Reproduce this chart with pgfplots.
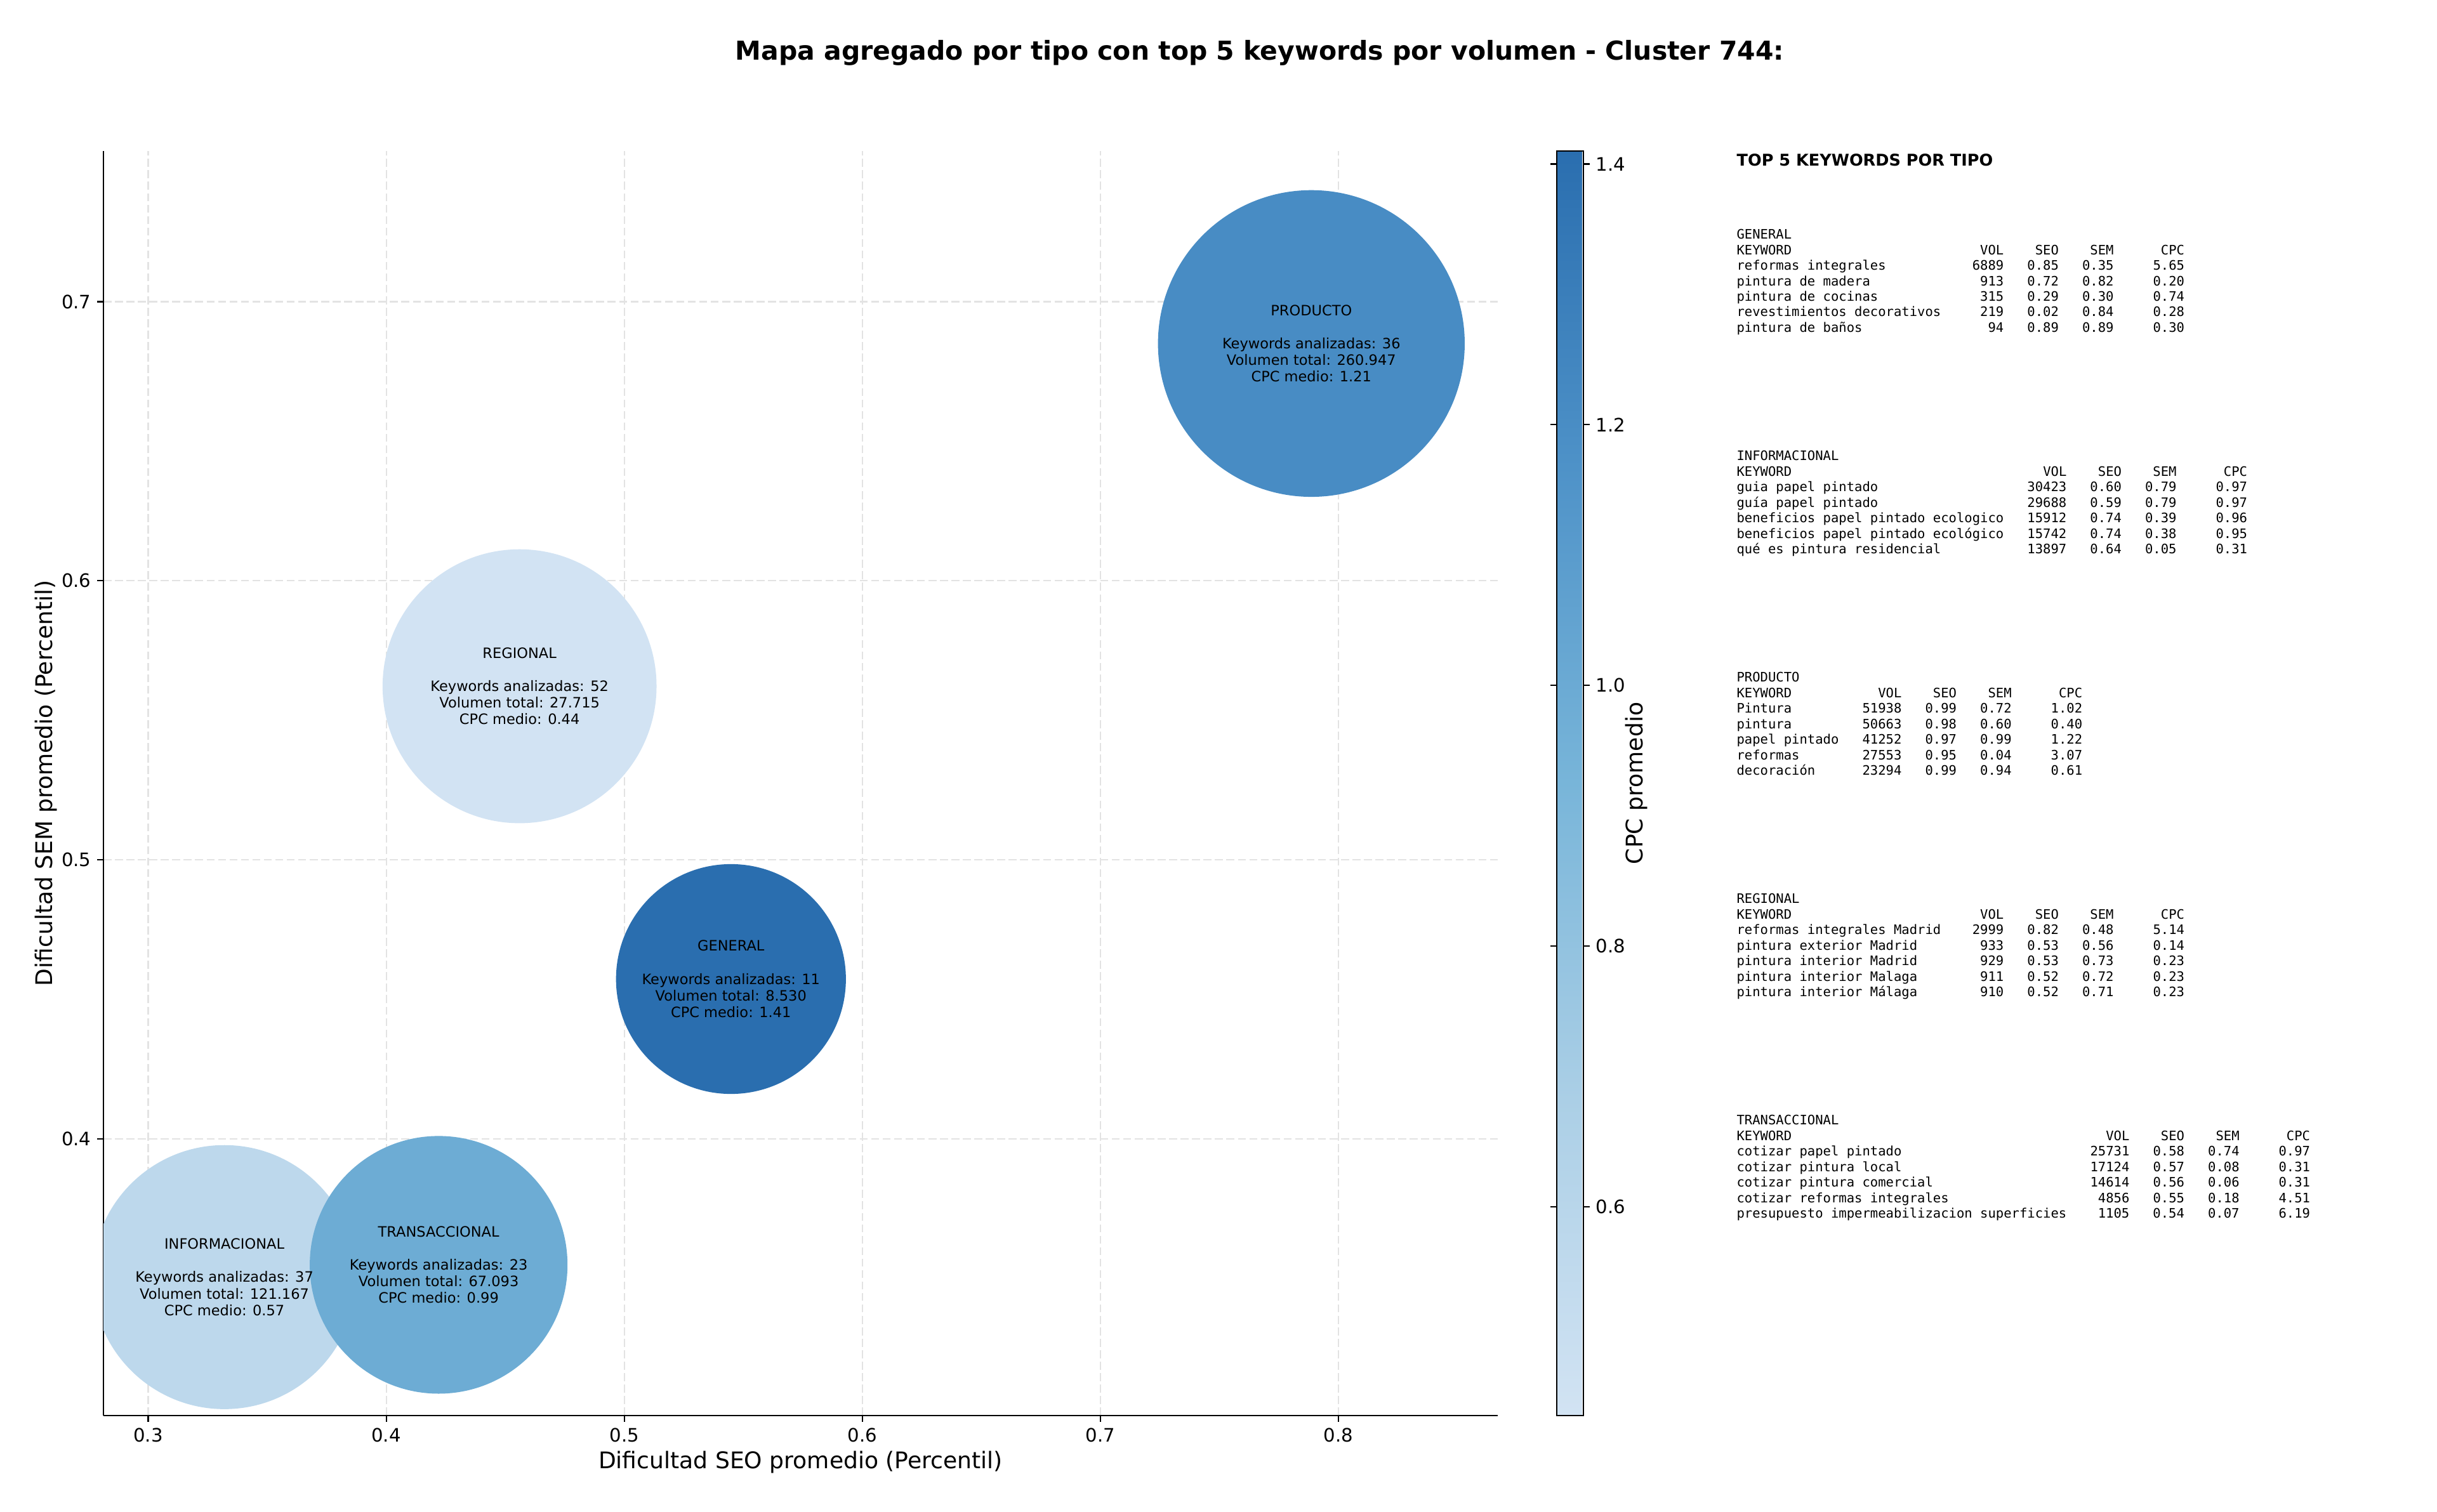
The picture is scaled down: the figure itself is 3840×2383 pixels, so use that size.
\documentclass[border=0pt]{standalone}
\usepackage{fontspec}
\setmainfont{DejaVu Sans}
\newfontfamily\monofont{DejaVu Sans Mono}
\usepackage{pgfplots}
\pgfplotsset{compat=1.18}
\usepackage{pgfplotstable}

\pgfplotstableread{
x y cpc r
0.5448 0.4573 1.41 65.2
0.3320 0.3505 0.57 74.9
0.7886 0.6850 1.21 87.0
0.4560 0.5622 0.44 77.7
0.4220 0.3549 0.99 73.1
}\bubbles

\pgfplotsset{
  colormap={cpcblues}{rgb255=(210,227,243) rgb255=(171,207,230) rgb255=(120,181,217) rgb255=(78,146,200) rgb255=(42,110,175)}
}

\newlength\cw
\newcommand\mf{\monofont\fontsize{7.4bp}{8.8bp}\selectfont}
\newcommand\C[3]{\makebox[#1\cw][#2]{#3}}
\newcommand\R[6]{\C{#1}{l}{#2}\C{8}{r}{#3}\C{7}{r}{#4}\C{7}{r}{#5}\C{9}{r}{#6}}

\begin{document}
\settowidth{\cw}{\mf 0}%
\begin{tikzpicture}[x=0.36bp,y=0.36bp]
\path[use as bounding box] (0,0) rectangle (3840,2383);
\begin{axis}[
  at={(58.68bp,54.72bp)}, anchor=south west,
  scale only axis, width=790.9bp, height=717.5bp,
  xmin=0.2812, xmax=0.8669, ymin=0.3009, ymax=0.7540,
  axis x line*=bottom, axis y line*=left,
  axis line style={line width=0.8bp, black},
  xtick={0.3,0.4,0.5,0.6,0.7,0.8}, ytick={0.4,0.5,0.6,0.7},
  tick align=outside, major tick length=3.5bp,
  tick style={line width=0.8bp, black},
  ticklabel style={font=\fontsize{10.5bp}{12bp}\selectfont},
  xticklabel style={/pgf/number format/.cd, fixed, precision=1},
  yticklabel style={/pgf/number format/.cd, fixed, precision=1},
  /pgf/number format/assume math mode=true,
  grid=major,
  major grid style={line width=0.8bp, black!11, dash pattern=on 4.5bp off 2bp},
  xlabel={Dificultad SEO promedio (Percentil)},
  ylabel={Dificultad SEM promedio (Percentil)},
  label style={font=\fontsize{13bp}{15bp}\selectfont},
  xlabel style={at={([yshift=-26.6bp]axis description cs:0.5,0)}, anchor=center},
  ylabel style={at={([xshift=-32.4bp]axis description cs:0,0.5)}, anchor=center},
  clip marker paths=true,
  colorbar, colormap name=cpcblues,
  point meta min=0.44, point meta max=1.41,
  colorbar shift/.style={xshift=33.5bp},
  colorbar style={
    at={(parent axis.south east)}, anchor=south west,
    scale only axis, width=15.1bp, height=717.5bp,
    ytick={0.6,0.8,1.0,1.2,1.4},
    yticklabel style={font=\fontsize{10.5bp}{12bp}\selectfont, /pgf/number format/.cd, fixed, fixed zerofill, precision=1},
    /pgf/number format/assume math mode=true,
    ylabel={CPC promedio},
    ylabel style={font=\fontsize{13bp}{15bp}\selectfont, at={([xshift=30.2bp]axis description cs:1,0.5)}, anchor=center},
    tick align=outside, major tick length=3.5bp,
    tick style={line width=0.8bp, black},
    axis line style={line width=0.8bp, black},
  },
]
\addplot[scatter, only marks, mark=*,
  point meta=explicit,
  scatter/use mapped color={draw opacity=0, fill=mapped color},
  visualization depends on={\thisrow{r}\as\rad},
  scatter/@pre marker code/.append style={/tikz/mark size=\rad bp},
] table[x=x, y=y, meta=cpc] {\bubbles};

\begin{scope}[every node/.style={align=center, font=\fontsize{8.1bp}{9.4bp}\selectfont}]
\node at (axis cs:0.5448,0.4573) {GENERAL\\[9.4bp]Keywords analizadas: 11\\Volumen total: 8.530\\CPC medio: 1.41};
\node at (axis cs:0.3320,0.3505) {INFORMACIONAL\\[9.4bp]Keywords analizadas: 37\\Volumen total: 121.167\\CPC medio: 0.57};
\node at (axis cs:0.7886,0.6850) {PRODUCTO\\[9.4bp]Keywords analizadas: 36\\Volumen total: 260.947\\CPC medio: 1.21};
\node at (axis cs:0.4560,0.5622) {REGIONAL\\[9.4bp]Keywords analizadas: 52\\Volumen total: 27.715\\CPC medio: 0.44};
\node at (axis cs:0.4220,0.3549) {TRANSACCIONAL\\[9.4bp]Keywords analizadas: 23\\Volumen total: 67.093\\CPC medio: 0.99};
\end{scope}
\end{axis}

\node[font=\bfseries\fontsize{14.75bp}{17bp}\selectfont] at (1985,2300) {Mapa agregado por tipo con top 5 keywords por volumen - Cluster 744:};

\node[anchor=north west, inner sep=0, font=\bfseries\fontsize{9.2bp}{11bp}\selectfont] at (2736,2141) {TOP 5 KEYWORDS POR TIPO};

\begin{scope}[every node/.style={anchor=north west, inner sep=0, align=left, font=\mf}]
\node at (2736,2022) {GENERAL\\
\R{26}{KEYWORD}{VOL}{SEO}{SEM}{CPC}\\
\R{26}{reformas integrales}{6889}{0.85}{0.35}{5.65}\\
\R{26}{pintura de madera}{913}{0.72}{0.82}{0.20}\\
\R{26}{pintura de cocinas}{315}{0.29}{0.30}{0.74}\\
\R{26}{revestimientos decorativos}{219}{0.02}{0.84}{0.28}\\
\R{26}{pintura de baños}{94}{0.89}{0.89}{0.30}};

\node at (2736,1673) {INFORMACIONAL\\
\R{34}{KEYWORD}{VOL}{SEO}{SEM}{CPC}\\
\R{34}{guia papel pintado}{30423}{0.60}{0.79}{0.97}\\
\R{34}{guía papel pintado}{29688}{0.59}{0.79}{0.97}\\
\R{34}{beneficios papel pintado ecologico}{15912}{0.74}{0.39}{0.96}\\
\R{34}{beneficios papel pintado ecológico}{15742}{0.74}{0.38}{0.95}\\
\R{34}{qué es pintura residencial}{13897}{0.64}{0.05}{0.31}};

\node at (2736,1324) {PRODUCTO\\
\R{13}{KEYWORD}{VOL}{SEO}{SEM}{CPC}\\
\R{13}{Pintura}{51938}{0.99}{0.72}{1.02}\\
\R{13}{pintura}{50663}{0.98}{0.60}{0.40}\\
\R{13}{papel pintado}{41252}{0.97}{0.99}{1.22}\\
\R{13}{reformas}{27553}{0.95}{0.04}{3.07}\\
\R{13}{decoración}{23294}{0.99}{0.94}{0.61}};

\node at (2736,975) {REGIONAL\\
\R{26}{KEYWORD}{VOL}{SEO}{SEM}{CPC}\\
\R{26}{reformas integrales Madrid}{2999}{0.82}{0.48}{5.14}\\
\R{26}{pintura exterior Madrid}{933}{0.53}{0.56}{0.14}\\
\R{26}{pintura interior Madrid}{929}{0.53}{0.73}{0.23}\\
\R{26}{pintura interior Malaga}{911}{0.52}{0.72}{0.23}\\
\R{26}{pintura interior Málaga}{910}{0.52}{0.71}{0.23}};

\node at (2736,626) {TRANSACCIONAL\\
\R{42}{KEYWORD}{VOL}{SEO}{SEM}{CPC}\\
\R{42}{cotizar papel pintado}{25731}{0.58}{0.74}{0.97}\\
\R{42}{cotizar pintura local}{17124}{0.57}{0.08}{0.31}\\
\R{42}{cotizar pintura comercial}{14614}{0.56}{0.06}{0.31}\\
\R{42}{cotizar reformas integrales}{4856}{0.55}{0.18}{4.51}\\
\R{42}{presupuesto impermeabilizacion superficies}{1105}{0.54}{0.07}{6.19}};
\end{scope}
\end{tikzpicture}
\end{document}
